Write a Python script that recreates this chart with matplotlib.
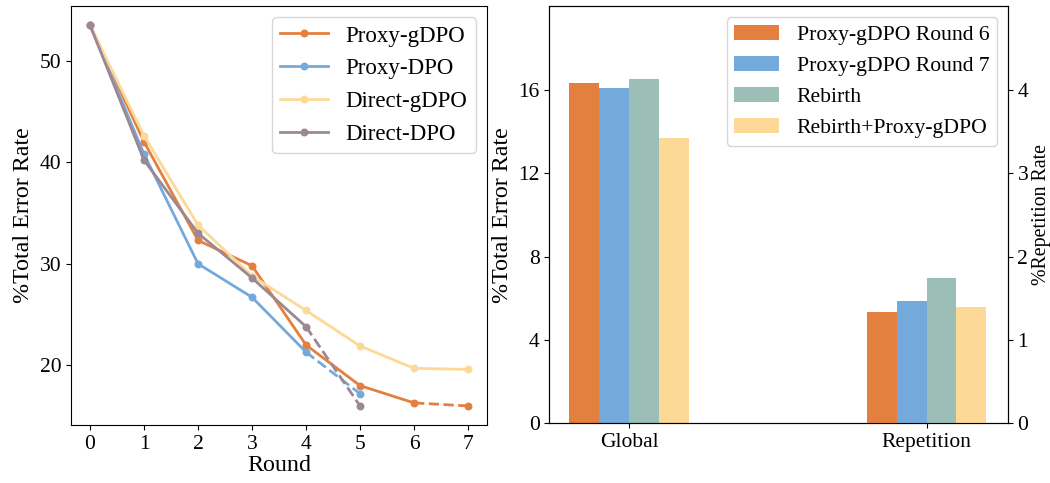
import matplotlib
matplotlib.use("Agg")
import matplotlib.pyplot as plt
import numpy as np

plt.rcParams['font.family'] = ['Liberation Serif', 'DejaVu Serif']
plt.rcParams['mathtext.fontset'] = 'stix'

rounds = [0, 1, 2, 3, 4, 5, 6, 7]
proxy_gdpo = [53.5, 42.0, 32.3, 29.8, 22.0, 18.0, 16.3, 16.0]
proxy_dpo = [53.5, 40.8, 30.0, 26.7, 21.3, 17.2]
direct_gdpo = [53.5, 42.6, 33.8, 28.8, 25.4, 21.9, 19.7, 19.6]
direct_dpo = [53.5, 40.2, 33.0, 28.6, 23.8, 16.0]

bar_groups = ['Global', 'Repetition']
bar_series = ['Proxy-gDPO Round 6', 'Proxy-gDPO Round 7', 'Rebirth', 'Rebirth+Proxy-gDPO']
global_vals = [16.33, 16.09, 16.52, 13.69]
repetition_vals = [1.33, 1.47, 1.74, 1.40]

c_orange = '#E3803F'
c_blue = '#74AADB'
c_yellow = '#FDD998'
c_mauve = '#9C8794'
c_teal = '#9BBFB6'

fig = plt.figure(figsize=(10.5, 4.83), dpi=100)
ax1 = fig.add_axes([0.0677, 0.1201, 0.3961, 0.8675])
ax2 = fig.add_axes([0.5231, 0.1236, 0.4366, 0.8630])

lw = 2
ms = 4.7
tick_fs = 15.5
label_fs = 17.3

def plot_series(ax, xs, ys, color, label, n_solid):
    ax.plot(xs[:n_solid], ys[:n_solid], '-o', color=color, lw=lw, ms=ms, label=label)
    if n_solid < len(xs):
        ax.plot(xs[n_solid - 1:], ys[n_solid - 1:], '--o', color=color, lw=lw, ms=ms,
                markevery=list(range(1, len(xs) - n_solid + 1)))

plot_series(ax1, rounds, proxy_gdpo, c_orange, 'Proxy-gDPO', 7)
plot_series(ax1, rounds[:6], proxy_dpo, c_blue, 'Proxy-DPO', 5)
plot_series(ax1, rounds, direct_gdpo, c_yellow, 'Direct-gDPO', 8)
plot_series(ax1, rounds[:6], direct_dpo, c_mauve, 'Direct-DPO', 5)

ax1.set_xticks(rounds)
ax1.set_yticks([20, 30, 40, 50])
ax1.set_xlabel('Round', fontsize=label_fs, labelpad=1)
ax1.set_ylabel('%Total Error Rate', fontsize=label_fs)
ax1.tick_params(labelsize=tick_fs)
ax1.legend(loc='upper right', fontsize=16.5, handlelength=2.1, borderpad=0.35,
           labelspacing=0.52, handletextpad=0.75)

x = np.arange(len(bar_groups))
w = 0.1
colors = [c_orange, c_blue, c_teal, c_yellow]
ax2r = ax2.twinx()
for i, (name, col) in enumerate(zip(bar_series, colors)):
    off = (i - 1.5) * w
    ax2.bar(x[0] + off, global_vals[i], w, color=col, label=name)
    ax2r.bar(x[1] + off, repetition_vals[i], w, color=col)

ax2.set_ylim(0, 20)
ax2r.set_ylim(0, 5)
ax2.set_yticks([0, 4, 8, 12, 16])
ax2r.set_yticks([0, 1, 2, 3, 4])
ax2.set_xticks(x)
ax2.set_xticklabels(bar_groups)
ax2.set_xlim(-0.268, 1.272)
ax2.set_ylabel('%Total Error Rate', fontsize=label_fs)
ax2r.set_ylabel('%Repetition Rate', fontsize=14.3, labelpad=2.5)
ax2.tick_params(labelsize=tick_fs)
ax2r.tick_params(labelsize=tick_fs)
ax2.legend(loc='upper right', fontsize=15.6, handlelength=2.05, borderpad=0.35,
           labelspacing=0.5, handletextpad=0.83)

fig.savefig('out.png', dpi=100)
